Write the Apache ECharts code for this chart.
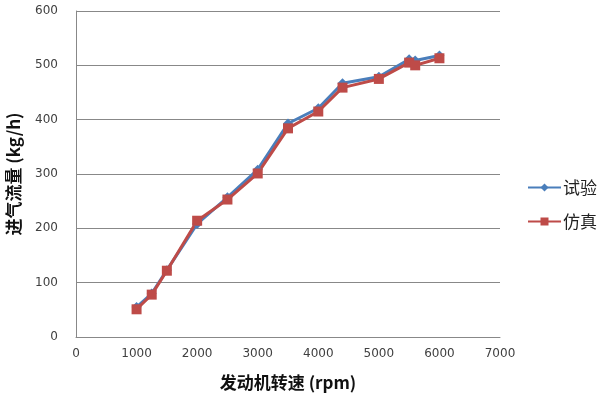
<!DOCTYPE html>
<html><head><meta charset="utf-8">
<script src="https://cdn.jsdelivr.net/npm/echarts@6/dist/echarts.min.js"></script>
<style>html,body{margin:0;padding:0;background:#fff}#c{width:610px;height:397px}</style>
</head><body><div id="c"></div>
<script>
const rpm = [1000, 1250, 1500, 2000, 2500, 3000, 3500, 4000, 4400, 5000, 5500, 5600, 6000];
const test = [55, 80, 123, 208, 257, 308, 393, 421, 467, 479, 511, 509, 518];
const sim = [51, 78, 122, 214, 253, 301, 384, 415, 459, 475, 505, 500, 513];
const seriesNames = ['试验', '仿真'];
const xName = '发动机转速 (rpm)';
const yName = '进气流量 (kg/h)';

const chart = echarts.init(document.getElementById('c'), null, {renderer: 'canvas'});
const font = 'DejaVu Sans';
chart.setOption({
  animation: false,
  backgroundColor: '#fff',
  grid: {left: 76, right: 110, top: 11, bottom: 60, containLabel: false, outerBoundsMode: 'none'},
  legend: {
    orient: 'vertical', left: 527, top: 179, padding: 0,
    itemWidth: 33, itemHeight: 10, itemGap: 17,
    textStyle: {fontFamily: 'Noto Sans CJK SC', fontSize: 17, color: '#222', padding: [0,0,0,-3]},
    data: seriesNames
  },
  xAxis: {
    type: 'value', min: 0, max: 7000, interval: 1000,
    name: xName, nameLocation: 'middle', nameGap: 37,
    nameTextStyle: {fontFamily: 'Noto Sans CJK SC', fontSize: 17, fontWeight: 'bold', color: '#111'},
    axisLine: {show: true, lineStyle: {color: '#888', width: 1}},
    axisTick: {show: false},
    axisLabel: {fontFamily: font, fontSize: 12, color: '#404040', margin: 11, formatter: v => String(v)},
    splitLine: {show: false}
  },
  yAxis: {
    type: 'value', min: 0, max: 600, interval: 100,
    name: yName, nameLocation: 'middle', nameGap: 54,
    nameTextStyle: {fontFamily: 'Noto Sans CJK SC', fontSize: 17, fontWeight: 'bold', color: '#111'},
    axisLine: {show: true, lineStyle: {color: '#888', width: 1}},
    axisTick: {show: false},
    axisLabel: {fontFamily: font, fontSize: 12, color: '#404040', margin: 18, formatter: v => String(v)},
    splitLine: {show: true, lineStyle: {color: '#888', width: 1}}
  },
  series: [
    {
      name: seriesNames[0], type: 'line',
      data: rpm.map((x, i) => [x, test[i]]),
      symbol: 'diamond', symbolSize: 10,
      lineStyle: {color: '#4A7EBB', width: 3},
      itemStyle: {color: '#4A7EBB'}
    },
    {
      name: seriesNames[1], type: 'line',
      data: rpm.map((x, i) => [x, sim[i]]),
      symbol: 'rect', symbolSize: 10,
      lineStyle: {color: '#BE4B48', width: 3},
      itemStyle: {color: '#BE4B48'}
    }
  ]
});
</script></body></html>
